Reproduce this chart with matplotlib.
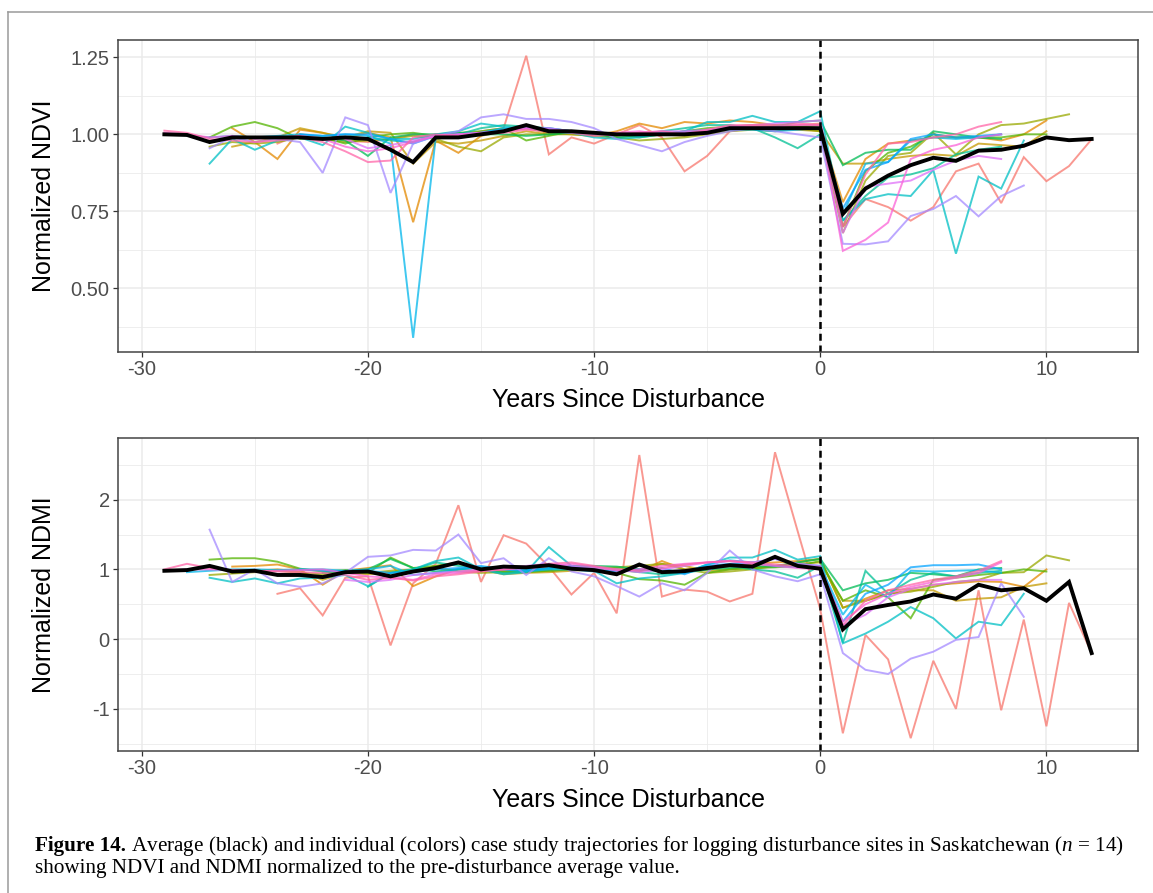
import matplotlib
matplotlib.use("Agg")
import matplotlib.pyplot as plt
from matplotlib.lines import Line2D
import numpy as np

plt.rcParams['font.family'] = ['Liberation Sans', 'DejaVu Sans']
plt.rcParams['mathtext.fontset'] = 'custom'
plt.rcParams['mathtext.rm'] = 'Liberation Serif'
plt.rcParams['mathtext.it'] = 'Liberation Serif:italic'

# ---------------- data ----------------
site_colors = ["#F8766D", "#E38900", "#C49A00", "#99A800", "#53B400", "#00BC56", "#00C094",
               "#00BFC4", "#00B6EB", "#06A4FF", "#A58AFF", "#DF70F8", "#FB61D7", "#FF66A8"]
site_start = [-24, -26, -26, -27, -27, -22, -20, -27, -28, -23, -27, -21, -29, -29]

# NDVI per site (from start year onwards, yearly)
ndvi_s01 = [0.97, 1.0, 0.99, 0.98, 0.975, 0.985, 1.0, 0.99, 0.995, 1.01, 1.02, 1.255, 0.935, 0.99, 0.97,
            1.0, 1.03, 0.99, 0.88, 0.93, 1.01, 1.02, 1.025, 1.03, 1.035,
            0.70, 0.79, 0.764, 0.72, 0.764, 0.88, 0.905, 0.777, 0.926, 0.848, 0.897, 0.984]
ndvi_s02 = [1.02, 0.975, 0.92, 1.015, 1.005, 0.985, 1.005, 0.99, 0.715, 0.98, 0.94, 0.995, 1.01, 1.02,
            1.005, 1.0, 0.995, 1.01, 1.035, 1.02, 1.04, 1.035, 1.045, 1.04, 1.03, 1.025, 1.02,
            0.78, 0.92, 0.97, 0.98, 0.99, 0.99, 0.99, 0.98, 1.0, 1.045]
ndvi_s03 = [0.96, 0.975, 0.99, 1.02, 1.005, 0.99, 1.01, 1.005, 0.905, 0.975, 0.97, 0.98, 0.995, 1.01,
            1.0, 1.005, 1.0, 0.995, 1.005, 1.0, 0.995, 1.005, 1.02, 1.025, 1.02, 1.015, 1.01,
            0.905, 0.905, 0.92, 0.93, 0.935, 0.93, 0.97, 0.965, 0.96, 1.01]
ndvi_s04 = [0.96, 0.975, 0.97, 0.975, 0.99, 0.985, 0.975, 0.98, 0.985, 0.995, 0.985, 0.96, 0.945, 0.99,
            1.0, 1.0, 1.0, 0.995, 0.99, 0.98, 0.985, 0.99, 1.0, 1.01, 1.015, 1.01, 1.02, 1.01,
            0.68, 0.85, 0.93, 0.94, 1.005, 0.935, 1.0, 1.03, 1.035, 1.05, 1.065]
ndvi_s05 = [0.99, 1.025, 1.04, 1.02, 0.985, 0.99, 0.97, 0.99, 1.0, 1.005, 0.995, 1.005, 1.01, 1.02,
            0.98, 0.995, 1.01, 1.005, 1.0, 0.99, 1.0, 1.01, 1.02, 1.025, 1.03, 1.03, 1.025, 1.03,
            0.70, 0.88, 0.94, 0.96, 1.0, 0.99, 0.99, 0.99, 1.0, 1.0]
ndvi_s06 = [0.99, 0.98, 0.93, 0.99, 1.0, 1.0, 1.005, 1.0, 1.0, 0.995, 1.0, 1.005, 1.0, 0.99, 0.995,
            1.0, 1.01, 1.015, 1.02, 1.02, 1.025, 1.04, 1.045,
            0.90, 0.94, 0.95, 0.95, 1.01, 1.0, 0.99, 0.985]
ndvi_s07 = [0.99, 0.98, 0.975, 1.0, 1.0, 1.02, 1.03, 1.025, 1.02, 1.01, 1.005, 1.0, 1.0, 1.01, 1.02,
            1.03, 1.03, 1.02, 0.99, 0.955, 1.0,
            0.72, 0.80, 0.86, 0.87, 0.89, 0.935, 0.95, 0.96]
ndvi_s08 = [0.905, 0.985, 0.95, 0.98, 0.99, 0.965, 1.025, 1.005, 0.985, 0.985, 1.0, 1.01, 1.035, 1.025,
            1.02, 1.015, 1.005, 0.99, 0.985, 0.99, 1.0, 1.01, 1.04, 1.04, 1.06, 1.04, 1.04, 1.075,
            0.72, 0.79, 0.806, 0.80, 0.884, 0.613, 0.863, 0.824, 0.98]
ndvi_s09 = [0.995, 0.99, 0.995, 0.99, 0.995, 1.0, 0.995, 1.0, 0.995, 0.97, 0.34, 0.99, 1.0, 1.005, 1.02,
            1.02, 1.01, 1.005, 1.0, 1.0, 0.995, 1.0, 1.005, 1.01, 1.015, 1.015, 1.01, 1.015, 1.02,
            0.74, 0.905, 0.91, 0.98, 0.99, 0.985, 0.99, 1.0]
ndvi_s10 = [1.0, 0.995, 1.0, 1.0, 0.985, 0.97, 0.995, 1.0, 1.005, 1.015, 1.02, 1.02, 1.01, 1.005, 1.0,
            1.0, 1.005, 1.005, 1.01, 1.02, 1.02, 1.02, 1.02, 1.02,
            0.76, 0.885, 0.91, 0.985, 1.0, 0.99, 0.995, 1.0]
ndvi_s11 = [0.955, 0.99, 0.975, 0.985, 0.975, 0.875, 1.055, 1.03, 0.81, 0.97, 0.995, 1.01, 1.055, 1.065,
            1.05, 1.05, 1.04, 1.02, 0.985, 0.965, 0.945, 0.975, 0.995, 1.01, 1.02, 1.01, 1.0, 0.99,
            0.645, 0.643, 0.653, 0.735, 0.758, 0.80, 0.734, 0.80, 0.834]
ndvi_s12 = [0.985, 0.955, 0.965, 0.98, 0.995, 1.0, 1.005, 1.01, 1.02, 1.02, 1.01, 1.005, 1.0, 1.005,
            1.01, 1.01, 1.015, 1.025, 1.03, 1.035, 1.04, 1.045,
            0.68, 0.83, 0.84, 0.85, 0.885, 0.915, 0.93, 0.92]
ndvi_s13 = [1.005, 1.0, 0.99, 0.995, 0.985, 0.99, 0.995, 0.985, 0.96, 0.945, 0.955, 0.975, 0.995, 1.0,
            1.005, 1.01, 1.02, 1.015, 1.01, 1.0, 1.005, 1.01, 1.0, 1.005, 1.01, 1.02, 1.025, 1.025,
            1.03, 1.03,
            0.622, 0.658, 0.714, 0.92, 0.95, 0.965, 0.99, 1.0]
ndvi_s14 = [1.012, 1.005, 0.985, 0.98, 0.975, 0.98, 0.99, 0.975, 0.945, 0.91, 0.915, 0.99, 1.0, 0.995,
            1.0, 1.005, 1.015, 1.01, 1.005, 0.995, 1.0, 1.005, 1.01, 1.0, 1.015, 1.03, 1.03, 1.03,
            1.035, 1.03,
            0.70, 0.87, 0.97, 0.975, 0.99, 1.0, 1.025, 1.04]

# NDMI per site
ndmi_s01 = [0.65, 0.73, 0.34, 0.88, 0.90, -0.09, 0.80, 1.08, 1.92, 0.82, 1.49, 1.37, 1.04, 0.64, 0.95,
            0.37, 2.64, 0.61, 0.71, 0.68, 0.54, 0.65, 2.68, 1.55, 0.43,
            -1.35, 0.06, -0.29, -1.42, -0.31, -1.0, 0.70, -1.02, 0.28, -1.25, 0.52, -0.2]
ndmi_s02 = [1.04, 1.05, 1.07, 1.0, 0.78, 0.98, 1.02, 1.06, 0.76, 0.90, 1.0, 0.97, 0.98, 1.0, 1.03,
            1.05, 1.0, 0.98, 0.97, 1.12, 1.0, 1.02, 1.05, 1.08, 1.10, 1.12, 1.15,
            0.45, 0.58, 0.70, 0.72, 0.78, 0.80, 0.83, 0.82, 0.75, 1.0]
ndmi_s03 = [0.95, 0.98, 1.0, 0.97, 0.85, 0.95, 0.93, 0.96, 0.98, 1.05, 1.1, 1.0, 0.93, 0.95, 0.96,
            0.98, 1.0, 1.02, 0.97, 1.08, 1.05, 0.98, 1.0, 1.03, 1.05, 1.08, 1.10,
            0.55, 0.55, 0.65, 0.70, 0.70, 0.55, 0.58, 0.60, 0.75, 0.80]
ndmi_s04 = [0.92, 0.94, 0.96, 0.98, 0.95, 0.93, 0.97, 0.95, 0.98, 1.0, 1.02, 0.97, 0.95, 0.96, 0.97,
            0.98, 1.0, 1.02, 1.03, 1.05, 1.08, 1.0, 0.95, 0.97, 1.0, 1.05, 1.10, 1.15,
            0.45, 0.55, 0.65, 0.68, 0.75, 0.82, 0.85, 0.95, 0.96, 1.2, 1.13]
ndmi_s05 = [1.14, 1.16, 1.16, 1.11, 1.01, 0.97, 0.99, 0.95, 1.17, 1.02, 1.05, 1.08, 1.0, 0.97, 0.96,
            0.98, 1.0, 0.99, 0.95, 0.86, 0.84, 0.78, 0.95, 1.0, 1.02, 1.03, 1.05, 1.12,
            0.55, 0.70, 0.60, 0.30, 0.85, 0.88, 0.92, 0.95, 1.0, 0.97]
ndmi_s06 = [0.95, 0.98, 1.0, 1.15, 1.02, 0.97, 1.0, 1.03, 1.02, 1.0, 1.0, 1.05, 1.05, 1.04, 1.0,
            0.97, 0.98, 1.0, 1.02, 1.05, 1.04, 1.1, 1.15,
            0.70, 0.80, 0.85, 0.95, 0.93, 0.90, 1.0, 1.02]
ndmi_s07 = [0.75, 0.95, 1.0, 1.1, 1.05, 1.0, 0.95, 0.97, 1.02, 1.05, 1.03, 1.0, 0.96, 0.93, 0.95,
            1.0, 1.05, 1.0, 0.97, 0.88, 1.05,
            -0.05, 0.98, 0.65, 0.85, 0.95, 0.90, 0.95, 0.98]
ndmi_s08 = [0.88, 0.82, 0.87, 0.80, 0.87, 0.88, 0.92, 0.76, 0.95, 1.0, 1.12, 1.17, 1.0, 0.93, 0.96,
            1.32, 1.05, 0.98, 0.80, 0.87, 0.90, 0.95, 1.07, 1.17, 1.17, 1.28, 1.14, 1.19,
            -0.06, 0.08, 0.25, 0.46, 0.30, 0.01, 0.25, 0.2, 0.65]
ndmi_s09 = [0.96, 0.98, 1.0, 1.0, 0.99, 1.0, 1.0, 0.98, 1.0, 1.05, 0.92, 0.95, 1.0, 1.02, 1.0,
            0.97, 1.0, 1.0, 0.97, 0.98, 1.0, 0.98, 0.95, 1.07, 1.13, 1.10, 1.15, 1.08, 1.05,
            0.35, 0.78, 0.60, 0.98, 0.97, 0.98, 0.99, 0.95]
ndmi_s10 = [1.0, 0.98, 0.97, 0.98, 0.95, 0.96, 1.0, 1.02, 1.05, 1.0, 0.99, 1.02, 1.04, 1.0, 0.97,
            0.99, 1.02, 0.93, 1.05, 1.08, 1.10, 1.05, 1.03, 1.05,
            0.25, 0.65, 0.78, 1.03, 1.06, 1.06, 1.07, 1.0]
ndmi_s11 = [1.57, 0.82, 1.0, 0.80, 0.75, 0.80, 0.95, 1.18, 1.20, 1.28, 1.27, 1.50, 1.09, 1.16, 0.92,
            1.16, 0.97, 0.90, 0.76, 0.61, 0.80, 0.70, 0.95, 1.27, 1.0, 0.90, 0.83, 0.93,
            -0.2, -0.44, -0.5, -0.28, -0.18, -0.01, 0.03, 0.8, 0.32]
ndmi_s12 = [0.85, 0.82, 0.85, 0.92, 0.95, 0.97, 1.0, 1.02, 1.05, 1.08, 1.05, 1.02, 1.0, 0.96, 1.0,
            1.05, 1.1, 1.12, 1.1, 1.15, 1.08, 1.05,
            0.20, 0.35, 0.60, 0.72, 0.78, 0.82, 0.85, 0.85]
ndmi_s13 = [0.98, 1.0, 1.0, 0.99, 0.97, 0.98, 0.99, 1.0, 0.95, 0.90, 0.88, 0.85, 0.93, 0.95, 0.98,
            1.0, 1.02, 1.05, 1.08, 1.04, 0.98, 1.0, 1.05, 1.08, 1.1, 1.12, 1.08, 1.05, 1.02, 1.0,
            0.25, 0.50, 0.65, 0.75, 0.82, 0.88, 0.95, 1.10]
ndmi_s14 = [1.0, 1.08, 1.02, 0.99, 0.98, 0.97, 0.96, 0.95, 0.92, 0.85, 0.88, 0.84, 0.90, 0.93, 0.97,
            1.0, 1.03, 1.08, 1.1, 1.05, 1.0, 0.98, 1.02, 1.07, 1.1, 1.12, 1.1, 1.07, 1.05, 1.03,
            0.20, 0.55, 0.70, 0.78, 0.85, 0.90, 0.98, 1.12]

# average trajectories (black), years -29 .. 12
mean_years = list(range(-29, 13))
ndvi_mean = [1.00, 0.998, 0.975, 0.99, 0.99, 0.99, 0.99, 0.985, 0.99, 0.985, 0.95, 0.91, 0.99, 0.99,
             1.00, 1.01, 1.03, 1.01, 1.01, 1.005, 1.00, 1.00, 1.00, 1.00, 1.005, 1.02, 1.02, 1.02,
             1.02, 1.02, 0.742, 0.824, 0.866, 0.90, 0.924, 0.914, 0.947, 0.95, 0.963, 0.99, 0.981,
             0.985]
ndmi_mean = [0.98, 0.99, 1.05, 0.97, 0.98, 0.92, 0.92, 0.89, 0.96, 0.97, 0.90, 0.97, 1.02, 1.10,
             1.0, 1.04, 1.03, 1.06, 1.01, 0.99, 0.93, 1.07, 0.96, 0.975, 1.02, 1.06, 1.04, 1.18,
             1.05, 1.01, 0.14, 0.43, 0.49, 0.54, 0.64, 0.58, 0.78, 0.70, 0.73, 0.55, 0.82, -0.2]

ndvi_sites = [ndvi_s01, ndvi_s02, ndvi_s03, ndvi_s04, ndvi_s05, ndvi_s06, ndvi_s07,
              ndvi_s08, ndvi_s09, ndvi_s10, ndvi_s11, ndvi_s12, ndvi_s13, ndvi_s14]
ndmi_sites = [ndmi_s01, ndmi_s02, ndmi_s03, ndmi_s04, ndmi_s05, ndmi_s06, ndmi_s07,
              ndmi_s08, ndmi_s09, ndmi_s10, ndmi_s11, ndmi_s12, ndmi_s13, ndmi_s14]

x_ticks = [-30, -20, -10, 0, 10]
ndvi_ticks = [0.50, 0.75, 1.00, 1.25]
ndvi_tick_labels = ["0.50", "0.75", "1.00", "1.25"]
ndmi_ticks = [-1, 0, 1, 2]
ndmi_tick_labels = ["-1", "0", "1", "2"]

caption_bold = "Figure 14."
caption_line1 = (" Average (black) and individual (colors) case study trajectories for logging "
                 "disturbance sites in Saskatchewan ($n$ = 14)")
caption_line2 = "showing NDVI and NDMI normalized to the pre-disturbance average value."

# ---------------- plotting ----------------
W, H = 1153, 893
fig = plt.figure(figsize=(W / 100, H / 100), dpi=100)

def ax_rect(left, top, right, bottom):
    return [left / W, 1 - bottom / H, (right - left) / W, (bottom - top) / H]

ax1 = fig.add_axes(ax_rect(118, 40, 1138, 352))
ax2 = fig.add_axes(ax_rect(118, 438, 1138, 751))

def style(ax, yticks, ylabels, yminor, ylim, ylabel):
    ax.set_xlim(-31.05, 14.05)
    ax.set_ylim(*ylim)
    ax.set_xticks(x_ticks)
    ax.set_xticklabels([str(t) for t in x_ticks])
    ax.set_xticks([-25, -15, -5, 5], minor=True)
    ax.set_yticks(yticks)
    ax.set_yticklabels(ylabels)
    ax.set_yticks(yminor, minor=True)
    ax.grid(True, which='major', color='#EBEBEB', lw=1.1)
    ax.grid(True, which='minor', color='#EBEBEB', lw=0.6)
    ax.set_axisbelow(True)
    ax.tick_params(which='major', length=3.5, width=0.9, color='#333333',
                   labelsize=14.5, labelcolor='#4D4D4D', pad=2.5)
    ax.tick_params(which='minor', length=0)
    for s in ax.spines.values():
        s.set_color('#444444')
        s.set_linewidth(1.1)
    ax.set_xlabel("Years Since Disturbance", fontsize=18, color='black', va='center')
    ax.xaxis.set_label_coords(0.5, -0.155)
    ax.set_ylabel(ylabel, fontsize=18, color='black', va='center')
    ax.yaxis.set_label_coords(-0.0725, 0.5)

def draw(ax, sites, mean_vals):
    for vals, start, col in zip(sites, site_start, site_colors):
        yrs = np.arange(start, start + len(vals))
        ax.plot(yrs, vals, color=col, lw=1.4, alpha=0.75, solid_joinstyle='miter')
    ax.axvline(0, color='black', lw=1.8, linestyle=(0, (2.8, 1.9)))
    ax.plot(mean_years, mean_vals, color='black', lw=2.8, solid_joinstyle='miter')

draw(ax1, ndvi_sites, ndvi_mean)
style(ax1, ndvi_ticks, ndvi_tick_labels, [0.375, 0.625, 0.875, 1.125], (0.294, 1.306),
      "Normalized NDVI")
draw(ax2, ndmi_sites, ndmi_mean)
style(ax2, ndmi_ticks, ndmi_tick_labels, [-1.5, -0.5, 0.5, 1.5, 2.5], (-1.604, 2.884),
      "Normalized NDMI")

# figure frame lines (top and left)
fig.add_artist(Line2D([8 / W, 1.0], [1 - 12 / H, 1 - 12 / H], color='#9A9A9A', lw=1.1))
fig.add_artist(Line2D([8 / W, 8 / W], [1 - 12 / H, 0.0], color='#9A9A9A', lw=1.1))

# caption
cap_size = 15.2
t_bold = fig.text(35 / W, 1 - 851 / H, caption_bold, fontsize=cap_size, fontweight='bold',
                  family='Liberation Serif', va='baseline', ha='left')
fig.canvas.draw()
r = fig.canvas.get_renderer()
bb = t_bold.get_window_extent(renderer=r)
fig.text(bb.x1 / W, 1 - 851 / H, caption_line1, fontsize=cap_size,
         family='Liberation Serif', va='baseline', ha='left')
fig.text(35 / W, 1 - 873 / H, caption_line2, fontsize=cap_size,
         family='Liberation Serif', va='baseline', ha='left')

fig.savefig("out.png", dpi=100)
